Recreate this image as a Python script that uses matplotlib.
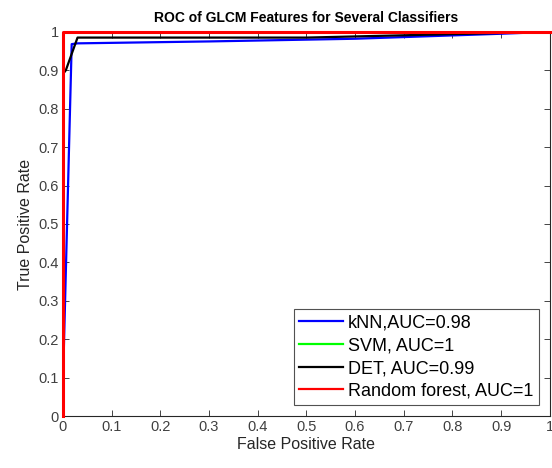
import numpy as np
import matplotlib
matplotlib.use("Agg")
import matplotlib.pyplot as plt

plt.rcParams['font.family'] = ['Liberation Sans', 'DejaVu Sans']

# ROC curves
knn_fpr = [0, 0.002, 0.018, 0.03, 0.3, 0.6, 0.9, 1.0]
knn_tpr = [0, 0.18, 0.968, 0.970, 0.975, 0.982, 0.995, 1.0]
svm_fpr = [0, 0, 1.0]
svm_tpr = [0, 1.0, 1.0]
det_fpr = [0, 0, 0.006, 0.03, 0.5, 1.0]
det_tpr = [0, 0.89, 0.90, 0.985, 0.985, 1.0]
rf_fpr = [0, 0, 1.0]
rf_tpr = [0, 1.0, 1.0]

labels = ['kNN,AUC=0.98', 'SVM, AUC=1', 'DET, AUC=0.99', 'Random forest, AUC=1']
colors = ['#0000ff', '#00ff00', '#000000', '#ff0000']

fig = plt.figure(figsize=(5.52, 4.68), dpi=100)
ax = fig.add_axes([0.114, 0.111, 0.882, 0.821])

ax.plot(knn_fpr, knn_tpr, color=colors[0], lw=1.6, label=labels[0])
ax.plot(svm_fpr, svm_tpr, color=colors[1], lw=1.6, label=labels[1])
ax.plot(det_fpr, det_tpr, color=colors[2], lw=1.6, label=labels[2])
ax.plot(rf_fpr, rf_tpr, color=colors[3], lw=2.2, label=labels[3], clip_on=False, zorder=5)

ax.set_xlim(0, 1)
ax.set_ylim(0, 1)
ticks = np.round(np.arange(0, 1.01, 0.1), 1)
ax.set_xticks(ticks)
ax.set_yticks(ticks)
ax.set_xticklabels([f'{t:g}' for t in ticks])
ax.set_yticklabels([f'{t:g}' for t in ticks])
ax.tick_params(direction='in', top=True, right=True, labelsize=10.5,
               labelcolor='#404040', color='#262626', length=4, width=0.6, pad=3)
for s in ax.spines.values():
    s.set_color('#262626')
    s.set_linewidth(0.8)

ax.set_xlabel('False Positive Rate', fontsize=11.5, color='#262626', labelpad=2)
ax.set_ylabel('True Positive Rate', fontsize=11.5, color='#262626', labelpad=4)
ax.set_title('ROC of GLCM Features for Several Classifiers', fontsize=10,
             fontweight='bold', pad=7)

leg = ax.legend(loc='lower right', fontsize=13, frameon=True, fancybox=False,
                edgecolor='#262626', borderaxespad=0.6, handlelength=2.4,
                labelspacing=0.32, handletextpad=0.3, borderpad=0.3)
leg.get_frame().set_linewidth(0.8)
for line in leg.get_lines():
    line.set_linewidth(1.6)

fig.savefig('out.png', dpi=100)
